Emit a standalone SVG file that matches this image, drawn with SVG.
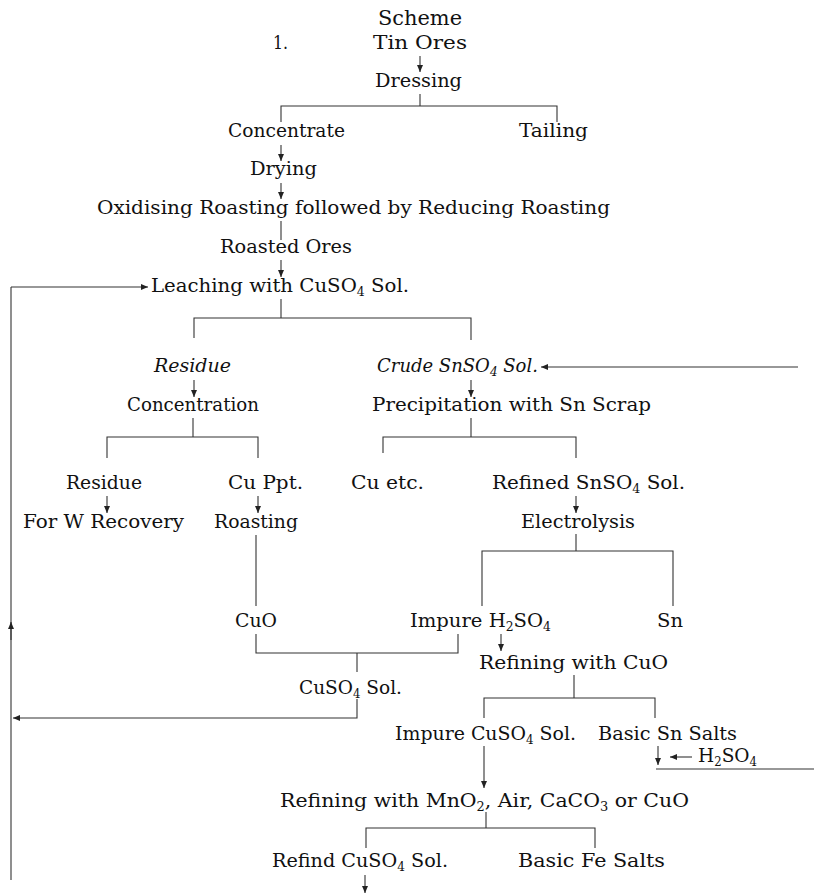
<svg xmlns="http://www.w3.org/2000/svg" width="814" height="893" viewBox="0 0 814 893">
<style>
text{font-family:"DejaVu Serif","Liberation Serif",serif;font-size:19px;fill:#111}
.title{font-size:21px}
.sub{font-size:12px}
.it{font-style:italic}
.c line,.c path{stroke:#333;stroke-width:1.1;fill:none}
.a{marker-end:url(#ah)}
</style>
<defs>
<marker id="ah" viewBox="0 0 7 7" refX="7" refY="3.5" markerWidth="7" markerHeight="7" orient="auto" markerUnits="userSpaceOnUse"><path d="M0,0.5 L7,3.5 L0,6.5 z" fill="#222"/></marker>
</defs>
<rect width="814" height="893" fill="#fff"/>
<g id="title"><text class="title" x="378" y="25" textLength="84" lengthAdjust="spacingAndGlyphs">Scheme</text><text x="273" y="49" textLength="15" lengthAdjust="spacingAndGlyphs">1.</text></g>
<g id="n-tin-ores"><text x="373" y="49" textLength="94" lengthAdjust="spacingAndGlyphs">Tin Ores</text></g>
<g id="n-dressing"><text x="375" y="87" textLength="87" lengthAdjust="spacingAndGlyphs">Dressing</text></g>
<g id="n-concentrate"><text x="228" y="137" textLength="117" lengthAdjust="spacingAndGlyphs">Concentrate</text></g>
<g id="n-tailing"><text x="519" y="137" textLength="69" lengthAdjust="spacingAndGlyphs">Tailing</text></g>
<g id="n-drying"><text x="250" y="175" textLength="67" lengthAdjust="spacingAndGlyphs">Drying</text></g>
<g id="n-roasting1"><text x="97" y="214" textLength="513" lengthAdjust="spacingAndGlyphs">Oxidising Roasting followed by Reducing Roasting</text></g>
<g id="n-roasted-ores"><text x="220" y="253" textLength="132" lengthAdjust="spacingAndGlyphs">Roasted Ores</text></g>
<g id="n-leaching"><text x="151" y="292" textLength="258" lengthAdjust="spacingAndGlyphs">Leaching with CuSO<tspan class="sub" dy="4">4</tspan><tspan dy="-4"> Sol.</tspan></text></g>
<g id="n-residue1"><text class="it" x="154" y="372" textLength="77" lengthAdjust="spacingAndGlyphs">Residue</text></g>
<g id="n-crude"><text class="it" x="377" y="372" style="font-size:18px">Crude SnSO<tspan class="sub" dy="4">4</tspan><tspan dy="-4"> Sol.</tspan></text></g>
<g id="n-concentration"><text x="127" y="411" textLength="132" lengthAdjust="spacingAndGlyphs">Concentration</text></g>
<g id="n-precipitation"><text x="372" y="411" textLength="279" lengthAdjust="spacingAndGlyphs">Precipitation with Sn Scrap</text></g>
<g id="n-residue2"><text x="66" y="489" textLength="76" lengthAdjust="spacingAndGlyphs">Residue</text></g>
<g id="n-cu-ppt"><text x="228" y="489" textLength="75" lengthAdjust="spacingAndGlyphs">Cu Ppt.</text></g>
<g id="n-cu-etc"><text x="351" y="489" textLength="73" lengthAdjust="spacingAndGlyphs">Cu etc.</text></g>
<g id="n-refined"><text x="492" y="489" textLength="193" lengthAdjust="spacingAndGlyphs">Refined SnSO<tspan class="sub" dy="4">4</tspan><tspan dy="-4"> Sol.</tspan></text></g>
<g id="n-w-recovery"><text x="23" y="528" textLength="161" lengthAdjust="spacingAndGlyphs">For W Recovery</text></g>
<g id="n-roasting2"><text x="214" y="528" textLength="84" lengthAdjust="spacingAndGlyphs">Roasting</text></g>
<g id="n-electrolysis"><text x="521" y="528" textLength="114" lengthAdjust="spacingAndGlyphs">Electrolysis</text></g>
<g id="n-cuo"><text x="235" y="627" textLength="42" lengthAdjust="spacingAndGlyphs">CuO</text></g>
<g id="n-impure-h2so4"><text x="410" y="627" textLength="141" lengthAdjust="spacingAndGlyphs">Impure H<tspan class="sub" dy="4">2</tspan><tspan dy="-4">SO</tspan><tspan class="sub" dy="4">4</tspan></text></g>
<g id="n-sn"><text x="657" y="627" textLength="26" lengthAdjust="spacingAndGlyphs">Sn</text></g>
<g id="n-refining-cuo"><text x="479" y="669" textLength="189" lengthAdjust="spacingAndGlyphs">Refining with CuO</text></g>
<g id="n-cuso4"><text x="299" y="694" textLength="103" lengthAdjust="spacingAndGlyphs">CuSO<tspan class="sub" dy="4">4</tspan><tspan dy="-4"> Sol.</tspan></text></g>
<g id="n-impure-cuso4"><text x="395" y="740" textLength="181" lengthAdjust="spacingAndGlyphs">Impure CuSO<tspan class="sub" dy="4">4</tspan><tspan dy="-4"> Sol.</tspan></text></g>
<g id="n-basic-sn"><text x="598" y="740" textLength="139" lengthAdjust="spacingAndGlyphs">Basic Sn Salts</text></g>
<g id="n-h2so4-in"><text x="698" y="762" textLength="59" lengthAdjust="spacingAndGlyphs">H<tspan class="sub" dy="4">2</tspan><tspan dy="-4">SO</tspan><tspan class="sub" dy="4">4</tspan></text></g>
<g id="n-refining-mno2"><text x="280" y="807" textLength="409" lengthAdjust="spacingAndGlyphs">Refining with MnO<tspan class="sub" dy="4">2</tspan><tspan dy="-4">, Air, CaCO</tspan><tspan class="sub" dy="4">3</tspan><tspan dy="-4"> or CuO</tspan></text></g>
<g id="n-refind-cuso4"><text x="272" y="867" textLength="176" lengthAdjust="spacingAndGlyphs">Refind CuSO<tspan class="sub" dy="4">4</tspan><tspan dy="-4"> Sol.</tspan></text></g>
<g id="n-basic-fe"><text x="518" y="867" textLength="147" lengthAdjust="spacingAndGlyphs">Basic Fe Salts</text></g>
<g id="connectors" class="c">
<line class="a" x1="420" y1="56" x2="420" y2="72"/>
<line x1="420" y1="94" x2="420" y2="106"/>
<path d="M281,122 V106 H557 V122"/>
<line class="a" x1="281" y1="145" x2="281" y2="161"/>
<line class="a" x1="281" y1="183" x2="281" y2="199"/>
<line x1="281" y1="221" x2="281" y2="240"/>
<line class="a" x1="281" y1="260" x2="281" y2="277"/>
<line x1="281" y1="299" x2="281" y2="318"/>
<path d="M194,338 V318 H471 V340"/>
<line class="a" x1="194" y1="380" x2="194" y2="397"/>
<line class="a" x1="471" y1="380" x2="471" y2="397"/>
<line class="a" x1="798" y1="367" x2="541" y2="367"/>
<line x1="193" y1="418" x2="193" y2="437"/>
<path d="M107,458 V437 H258 V458"/>
<line x1="471" y1="418" x2="471" y2="437"/>
<path d="M383,453 V437 H576 V458"/>
<line class="a" x1="107" y1="496" x2="107" y2="513"/>
<line class="a" x1="258" y1="496" x2="258" y2="513"/>
<line class="a" x1="576" y1="496" x2="576" y2="513"/>
<line x1="256" y1="535" x2="256" y2="606"/>
<line x1="576" y1="534" x2="576" y2="551"/>
<path d="M482,606 V551 H673 V606"/>
<path d="M256,634 V653 H458 V634"/>
<line x1="357" y1="653" x2="357" y2="672"/>
<path class="a" d="M357,699 V718 H13"/>
<line class="a" x1="501" y1="634" x2="501" y2="651"/>
<line x1="574" y1="675" x2="574" y2="698"/>
<path d="M484,718 V698 H655 V718"/>
<line class="a" x1="484" y1="746" x2="484" y2="788"/>
<line class="a" x1="658" y1="746" x2="658" y2="765"/>
<line class="a" x1="692" y1="757" x2="670" y2="757"/>
<line x1="656" y1="769" x2="814" y2="769"/>
<line x1="486" y1="812" x2="486" y2="828"/>
<path d="M366,848 V828 H595 V848"/>
<line class="a" x1="365" y1="875" x2="365" y2="893"/>
<line x1="11" y1="880" x2="11" y2="287"/>
<line class="a" x1="11" y1="640" x2="11" y2="622"/>
<line class="a" x1="11" y1="287" x2="148" y2="287"/>
</g>
</svg>
